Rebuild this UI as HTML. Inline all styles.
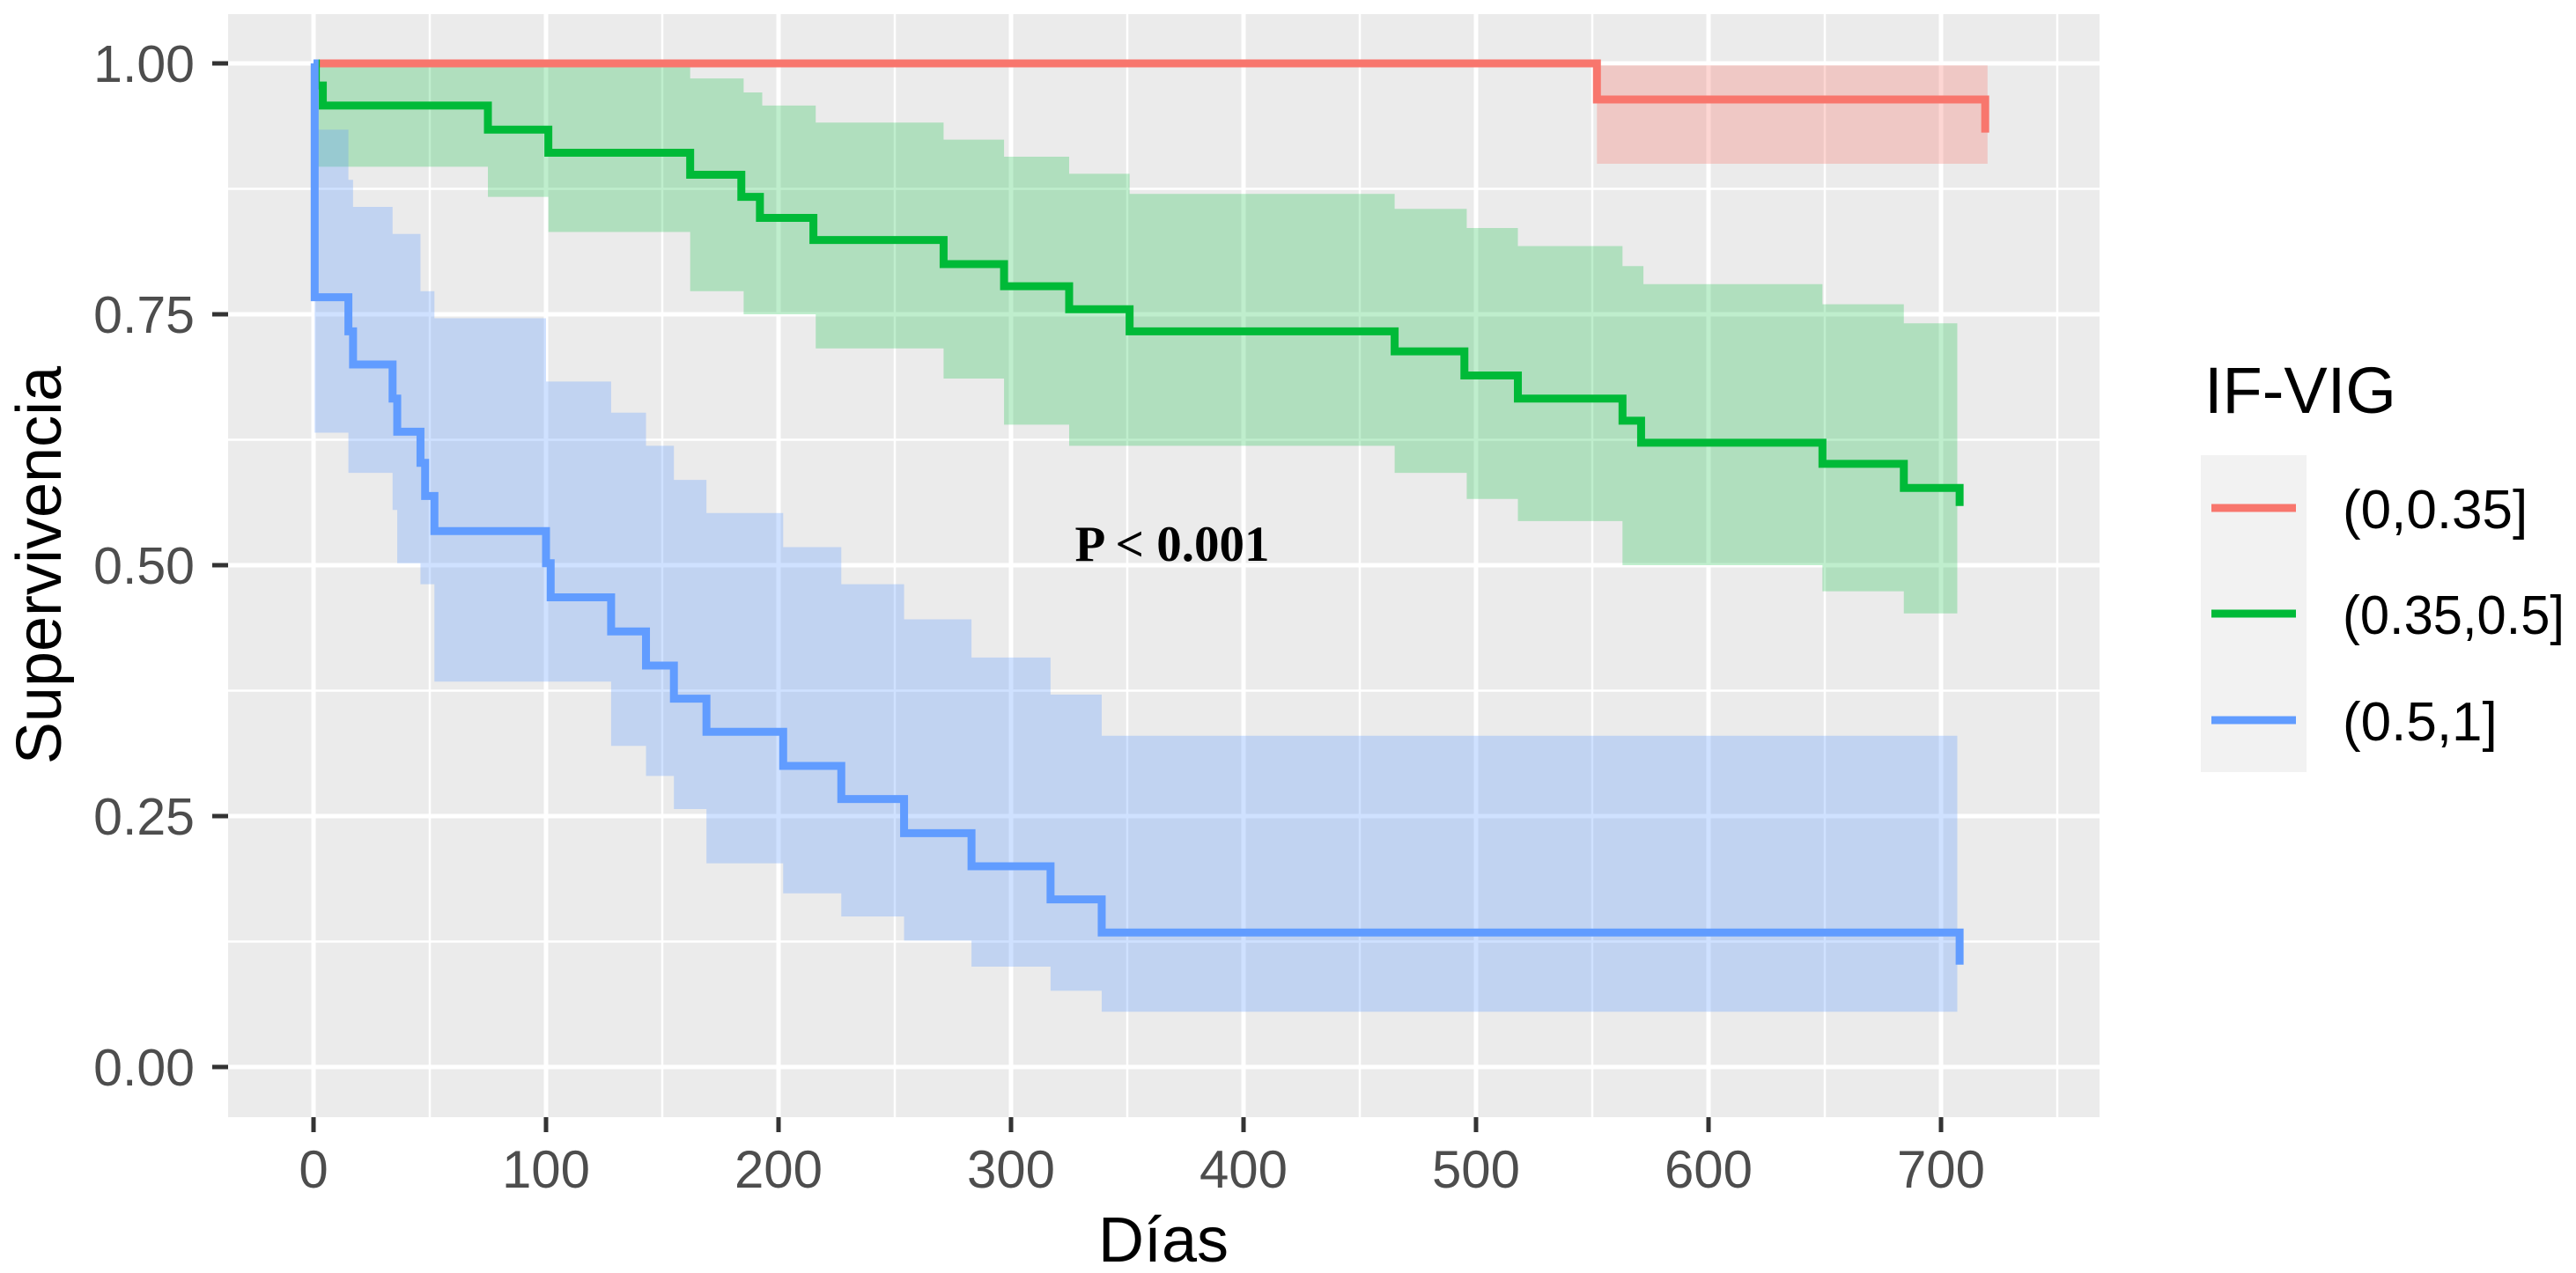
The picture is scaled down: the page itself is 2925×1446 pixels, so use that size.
<!DOCTYPE html>
<html><head><meta charset="utf-8"><style>
html,body{margin:0;padding:0;background:#fff;}
svg{display:block;font-family:"Liberation Sans",sans-serif;}
</style></head><body>
<svg id="chart" width="2925" height="1446" viewBox="0 0 2925 1446" xmlns="http://www.w3.org/2000/svg">
<rect x="259" y="16" width="2125" height="1253" fill="#EBEBEB"/>
<g id="grid"></g>
<g id="ribbons"></g>
<g id="lines"></g>
<g id="axes"></g>
<text x="1331" y="637" text-anchor="middle" font-family="Liberation Serif, serif" font-weight="bold" font-size="57" fill="#000">P &lt; 0.001</text>
<text x="1321" y="1433" text-anchor="middle" font-size="72" fill="#000">Días</text>
<text transform="translate(69,642) rotate(-90)" text-anchor="middle" font-size="72" fill="#000">Supervivencia</text>
<g>
<text x="2503" y="469" font-size="74" fill="#000">IF-VIG</text>
<rect x="2499" y="517" width="120" height="360" fill="#F2F2F2"/>
<line x1="2511" x2="2607" y1="577" y2="577" stroke="#F8766D" stroke-width="9"/>
<line x1="2511" x2="2607" y1="697" y2="697" stroke="#00BA38" stroke-width="9"/>
<line x1="2511" x2="2607" y1="818" y2="818" stroke="#619CFF" stroke-width="9"/>
<text x="2660" y="600" font-size="62" fill="#000">(0,0.35]</text>
<text x="2660" y="720" font-size="62" fill="#000" textLength="252" lengthAdjust="spacingAndGlyphs">(0.35,0.5]</text>
<text x="2660" y="841" font-size="62" fill="#000">(0.5,1]</text>
</g>
</svg>
<script>
const xTicks = [0,100,200,300,400,500,600,700];
const yTicks = [0,0.25,0.5,0.75,1];
const yTickLabels = ["0.00","0.25","0.50","0.75","1.00"];
// Red group (0,0.35]
const redTimes = [0,552,719];
const redSurv = [1,0.964,0.931];
const redUpper = [1,0.998,0.998];
const redLower = [1,0.90,0.90];
const redEnd = 720;
// Green group (0.35,0.5]
const greenTimes = [0,1,4,75,101,162,184,192,215,271,297,325,351,465,495,518,563,571,649,684,708];
const greenSurv = [1,0.978,0.958,0.934,0.911,0.889,0.867,0.846,0.824,0.80,0.778,0.755,0.733,0.713,0.689,0.666,0.644,0.622,0.601,0.577,0.559];
const greenBandTimes = [0,75,101,162,185,193,216,271,297,325,351,465,496,518,563,572,649,684];
const greenUpper = [1,1,1,0.985,0.971,0.958,0.941,0.924,0.907,0.89,0.87,0.855,0.836,0.818,0.798,0.78,0.76,0.741];
const greenLower = [0.897,0.867,0.832,0.773,0.75,0.75,0.716,0.686,0.64,0.619,0.619,0.592,0.566,0.544,0.5,0.5,0.474,0.452];
const greenEnd = 707;
// Blue group (0.5,1]
const blueTimes = [0,0.5,15,17,34,36,46,48,52,100,102,128,143,155,169,202,227,254,283,317,339,708];
const blueSurv = [1,0.767,0.733,0.70,0.666,0.633,0.602,0.569,0.534,0.502,0.468,0.434,0.40,0.367,0.334,0.30,0.267,0.233,0.20,0.167,0.134,0.102];
const blueBandTimes = [0.5,15,17,34,36,46,52,100,128,143,155,169,202,227,254,283,317,339];
const blueUpper = [0.934,0.934,0.884,0.857,0.83,0.83,0.773,0.746,0.683,0.652,0.619,0.585,0.552,0.518,0.481,0.446,0.408,0.371,0.33].slice(1);
const blueLower = [0.632,0.592,0.592,0.555,0.502,0.481,0.384,0.384,0.32,0.29,0.257,0.203,0.173,0.15,0.126,0.10,0.076,0.055];
const blueEnd = 707;

const X = d => 356 + d * 2.64;
const Y = v => 1212 - v * 1140;
const NS = "http://www.w3.org/2000/svg";
function mk(tag, attrs, parent){const e=document.createElementNS(NS,tag);for(const k in attrs)e.setAttribute(k,attrs[k]);parent.appendChild(e);return e;}

const grid = document.getElementById('grid');
for (let d = -50; d <= 750; d += 50) {
  const major = d % 100 === 0;
  const l = mk('line',{x1:X(d),x2:X(d),y1:16,y2:1269,stroke:'#fff','stroke-width':major?5:2.5},grid);
  
  
}
for (let v = 0; v <= 1.001; v += 0.125) {
  const major = Math.abs(v*4 - Math.round(v*4)) < 1e-6;
  const l = mk('line',{x1:259,x2:2384,y1:Y(v),y2:Y(v),stroke:'#fff','stroke-width':major?5:2.5},grid);
  
  
}

function bandPath(times, up, lo, end){
  let top = '', bot = [];
  for (let i=0;i<times.length;i++){
    const t0 = times[i], t1 = i+1<times.length ? times[i+1] : end;
    top += (i===0?'M':'L') + X(t0) + ' ' + Y(up[i]) + ' L' + X(t1) + ' ' + Y(up[i]) + ' ';
    bot.push('L' + X(t1) + ' ' + Y(lo[i]) + ' L' + X(t0) + ' ' + Y(lo[i]));
  }
  return top + bot.reverse().join(' ') + ' Z';
}
function stepPath(times, surv){
  let p = 'M' + X(times[0]) + ' ' + Y(surv[0]);
  for (let i=1;i<times.length;i++){
    p += ' L' + X(times[i]) + ' ' + Y(surv[i-1]) + ' L' + X(times[i]) + ' ' + Y(surv[i]);
  }
  return p;
}
const rib = document.getElementById('ribbons');
const rb = mk('path',{d:bandPath(redTimes.slice(1),redUpper.slice(1),redLower.slice(1),redEnd),fill:'#F8766D','fill-opacity':0.3},rib);


const gb = mk('path',{d:bandPath(greenBandTimes,greenUpper,greenLower,greenEnd),fill:'#00BA38','fill-opacity':0.25},rib);


const bb = mk('path',{d:bandPath(blueBandTimes,blueUpper,blueLower,blueEnd),fill:'#619CFF','fill-opacity':0.3},rib);



const lines = document.getElementById('lines');
const series = [[redTimes,redSurv,'#F8766D','curve-low'],[greenTimes,greenSurv,'#00BA38','curve-mid'],[blueTimes,blueSurv,'#619CFF','curve-high']];
for (const s of series){
  const p = mk('path',{d:stepPath(s[0],s[1]),fill:'none',stroke:s[2],'stroke-width':9,'stroke-linejoin':'miter'},lines);
  
  
}

const axes = document.getElementById('axes');
xTicks.forEach(d => {
  const t = mk('line',{x1:X(d),x2:X(d),y1:1269,y2:1286,stroke:'#333','stroke-width':5},axes);
  
  
  const lb = mk('text',{x:X(d),y:1349,'text-anchor':'middle','font-size':60,fill:'#4D4D4D'},axes);
  lb.textContent = String(d);
  
  
});
yTicks.forEach((v,i) => {
  const t = mk('line',{x1:241,x2:259,y1:Y(v),y2:Y(v),stroke:'#333','stroke-width':5},axes);
  
  
  const lb = mk('text',{x:221,y:Y(v)+21,'text-anchor':'end','font-size':59,fill:'#4D4D4D'},axes);
  lb.textContent = yTickLabels[i];
  
  
});
</script>
</body></html>
